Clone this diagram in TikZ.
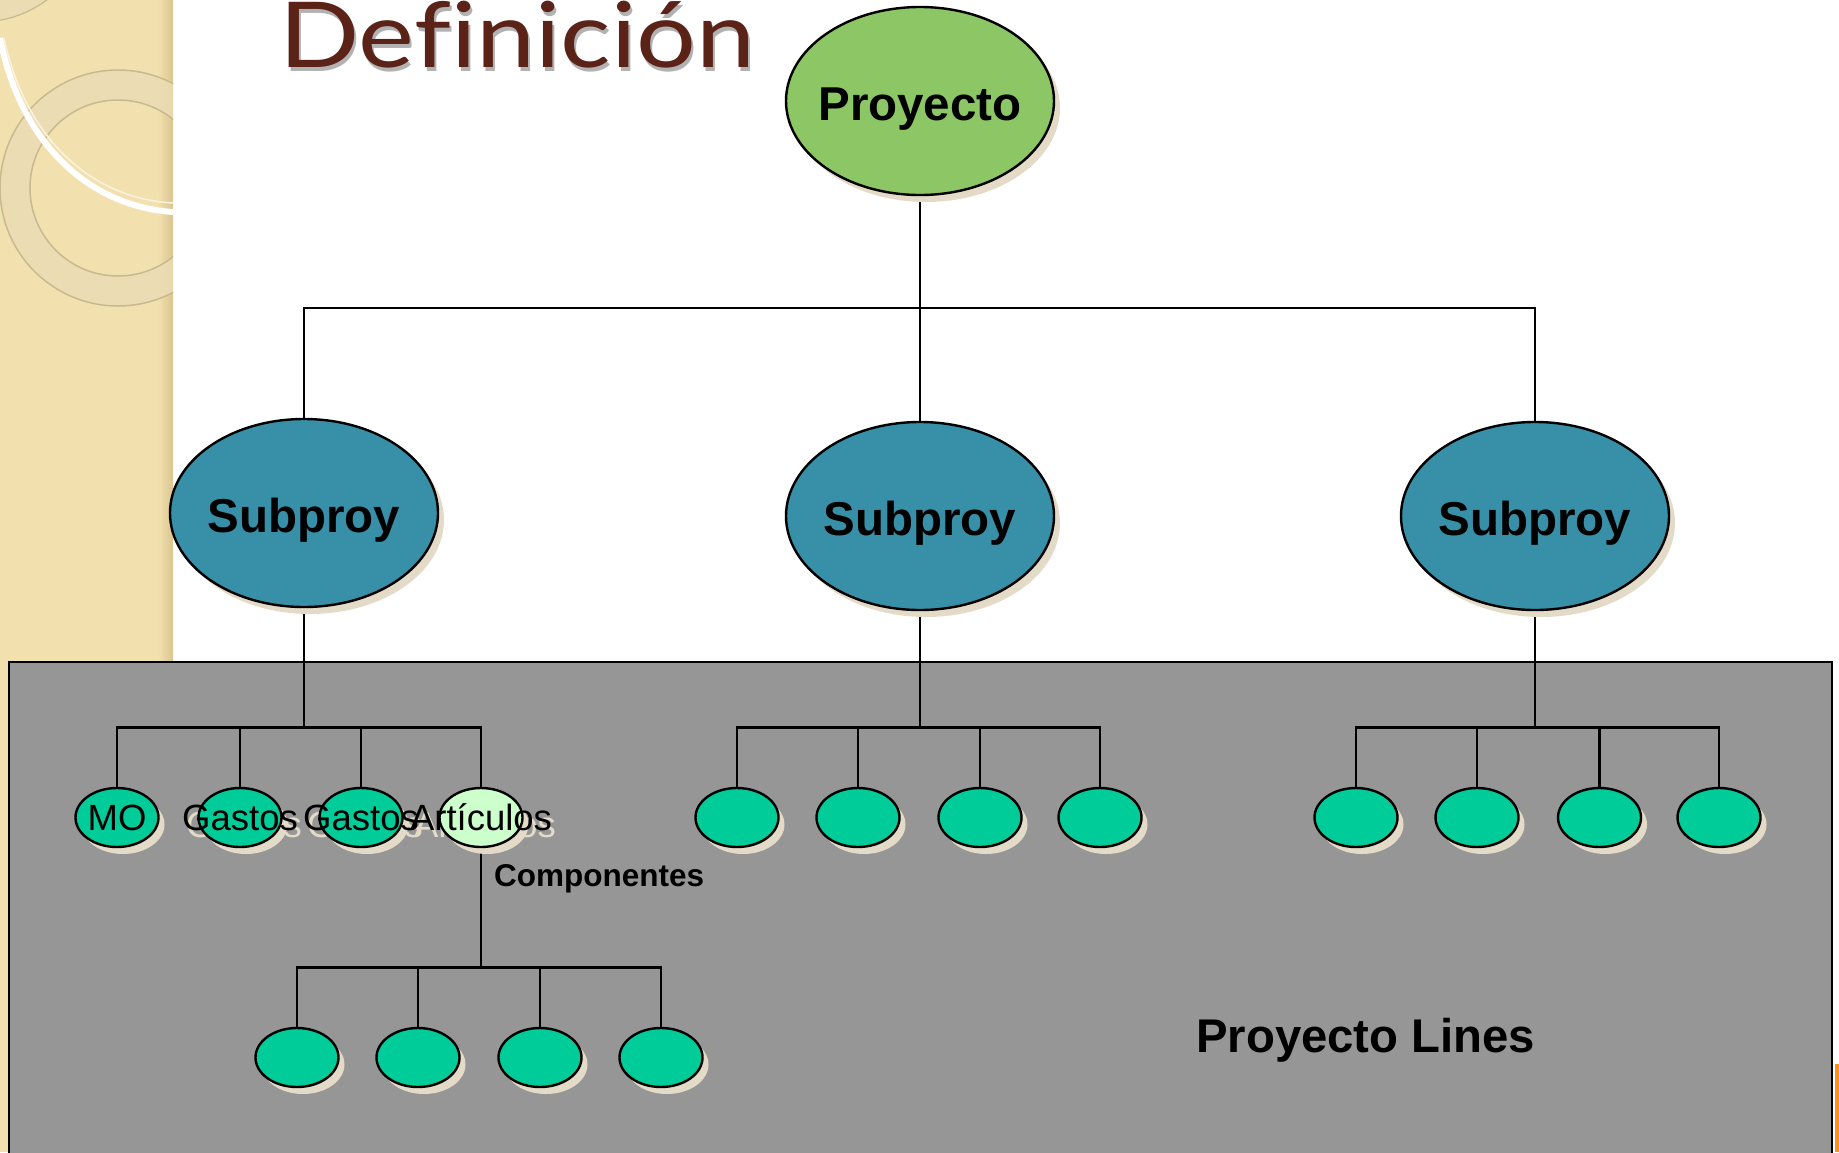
\documentclass[tikz,border=0pt]{standalone}
\usepackage{fontspec}
\setmainfont{Liberation Sans}
\newfontfamily\titlefont[Ligatures=NoCommon]{Lato}
\usetikzlibrary{shapes.geometric,shadows}
\definecolor{stripc}{HTML}{F2E1AE}
\definecolor{stripdark}{HTML}{D9C590}
\definecolor{ringc}{HTML}{EADCB4}
\definecolor{ringedge}{HTML}{C9B98E}
\definecolor{titlec}{HTML}{5B2217}
\definecolor{projc}{HTML}{8CC665}
\definecolor{subc}{HTML}{3890A8}
\definecolor{leafc}{HTML}{00CC99}
\definecolor{artc}{HTML}{CCFFCC}
\definecolor{boxc}{HTML}{969696}
\definecolor{shc}{HTML}{E3DBC7}
\definecolor{orangec}{HTML}{F7931E}
\pgfdeclarelayer{bg}
\pgfdeclarelayer{wires}
\pgfsetlayers{bg,wires,main}
\newcommand{\midtxt}[2]{\raisebox{-#1}[0pt][0pt]{\makebox[0pt]{#2}}}
\begin{document}
\begin{tikzpicture}[x=1pt,y=-1pt,
  shad/.style={drop shadow={shadow xshift=6pt, shadow yshift=-7pt, fill=shc, opacity=1}},
  bigell/.style={ellipse, draw=black, line width=2.4pt, inner sep=0pt,
    minimum width=268pt, minimum height=188pt, shad,
    font=\fontsize{47.5}{50}\selectfont\bfseries},
  leaf/.style={ellipse, draw=black, line width=2.4pt, inner sep=0pt,
    minimum width=83pt, minimum height=59pt, fill=leafc, shad,
    font=\fontsize{36.5}{38}\selectfont},
  lblshadow/.style={inner sep=0pt, text=shc, font=\fontsize{36.5}{38}\selectfont},
  wire/.style={line width=2.6pt, black},
  boldtxt/.style={inner sep=0pt, anchor=base west}]
\path[use as bounding box] (0,0) rectangle (1839,1152);
\clip (0,0) rectangle (1839,1152);

\begin{pgfonlayer}{bg}
  % decorative strip
  \fill[stripc] (0,0) rectangle (173,1152);
  \shade[left color=stripc, right color=stripdark] (158,0) rectangle (173,1152);
  \begin{scope}
    \clip (0,0) rectangle (173,1152);
    \fill[ringc, opacity=0.85, even odd rule] (118,188) circle[radius=118] (118,188) circle[radius=88];
    \draw[ringedge, line width=1.5pt] (118,188) circle[radius=118] (118,188) circle[radius=88];
    \fill[ringc, opacity=0.85, even odd rule] (-20,-90) circle[radius=112] (-20,-90) circle[radius=92];
    \draw[ringedge, line width=1.2pt] (-20,-90) circle[radius=112];
    \draw[white, line width=6pt] (0,38) .. controls (22,150) and (95,207) .. (173,212);
    \draw[white!60!stripc, line width=1.5pt] (4,38) .. controls (27,145) and (97,199) .. (173,203);
  \end{scope}
  % lines box
  \draw[fill=boxc, line width=2.6pt] (9,662) rectangle (1832,1180);
  \fill[orangec] (1834.5,1064) rectangle (1839,1152);
\end{pgfonlayer}

% title
\node[anchor=base west, inner sep=0pt, text=black, opacity=0.3,
  font=\titlefont\fontsize{91}{91}\selectfont] (titleshadow) at (281,71) {\scalebox{1.16}[1]{Definición}};
\node[anchor=base west, inner sep=0pt, text=titlec,
  font=\titlefont\fontsize{91}{91}\selectfont] (title) at (279,67) {\scalebox{1.16}[1]{Definición}};

% main nodes
\node[bigell, fill=projc] (proj) at (920,101) {\midtxt{19pt}{Proyecto}};
\node[bigell, fill=subc] (s1) at (304,513) {\midtxt{19pt}{Subproy}};
\node[bigell, fill=subc] (s2) at (920,516) {\midtxt{19pt}{Subproy}};
\node[bigell, fill=subc] (s3) at (1535,516) {\midtxt{19pt}{Subproy}};

% leaves, left group
\node[leaf] (l1) at (117,817.5) {\midtxt{13pt}{MO}};
\node[leaf] (l2) at (240,817.5) {\midtxt{13pt}{Gastos}};
\node[leaf] (l3) at (361,817.5) {\midtxt{13pt}{Gastos}};
\node[leaf, fill=artc] (l4) at (481,817.5) {\midtxt{13pt}{Artículos}};
% middle group
\node[leaf] (m1) at (737,817.5) {};
\node[leaf] (m2) at (858,817.5) {};
\node[leaf] (m3) at (980,817.5) {};
\node[leaf] (m4) at (1100,817.5) {};
% right group
\node[leaf] (r1) at (1356,817.5) {};
\node[leaf] (r2) at (1477,817.5) {};
\node[leaf] (r3) at (1599.5,817.5) {};
\node[leaf] (r4) at (1719,817.5) {};
% bottom group
\node[leaf] (b1) at (297,1057.5) {};
\node[leaf] (b2) at (418,1057.5) {};
\node[leaf] (b3) at (540,1057.5) {};
\node[leaf] (b4) at (661,1057.5) {};

\node[boldtxt, font=\fontsize{31.5}{33}\selectfont\bfseries] (comp) at (494,886.5) {Componentes};
\node[boldtxt, font=\fontsize{47.3}{50}\selectfont\bfseries] (plines) at (1196,1052) {Proyecto Lines};

\coordinate (bus0) at (920,308);
\coordinate (bus1) at (0,727.7);
\coordinate (bus2) at (0,967.7);

\begin{pgfonlayer}{wires}
  % label shadows
  \node[lblshadow] (ts1) at ([shift={(4,7)}]l1.center) {\midtxt{13pt}{MO}};
  \node[lblshadow] (ts2) at ([shift={(4,7)}]l2.center) {\midtxt{13pt}{Gastos}};
  \node[lblshadow] (ts3) at ([shift={(4,7)}]l3.center) {\midtxt{13pt}{Gastos}};
  \node[lblshadow] (ts4) at ([shift={(4,7)}]l4.center) {\midtxt{13pt}{Artículos}};
  % connectors
  \draw[wire] (proj.south) -- (bus0);
  \foreach \n in {s1,s2,s3} \draw[wire] (bus0) -| (\n.north);
  \draw[wire] (s1.south) -- (s1.south |- bus1);
  \foreach \n in {l1,l2,l3,l4} \draw[wire] (s1.south |- bus1) -| (\n.north);
  \draw[wire] (s2.south) -- (s2.south |- bus1);
  \foreach \n in {m1,m2,m3,m4} \draw[wire] (s2.south |- bus1) -| (\n.north);
  \draw[wire] (s3.south) -- (s3.south |- bus1);
  \foreach \n in {r1,r2,r3,r4} \draw[wire] (s3.south |- bus1) -| (\n.north);
  \draw[wire] (l4.south) -- (l4.south |- bus2);
  \foreach \n in {b1,b2,b3,b4} \draw[wire] (l4.south |- bus2) -| (\n.north);
\end{pgfonlayer}
\end{tikzpicture}
\end{document}
